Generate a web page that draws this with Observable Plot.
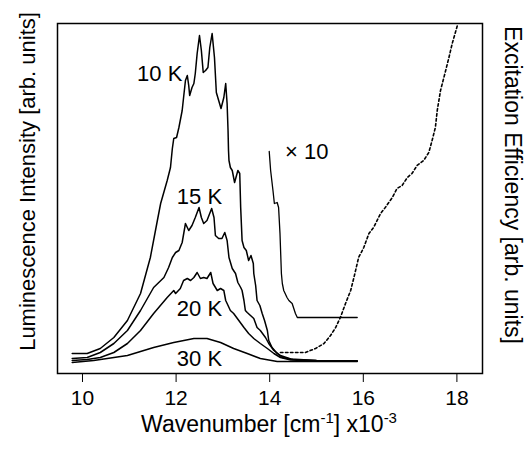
<!DOCTYPE html>
<html>
<head>
<meta charset="utf-8">
<script src="https://cdn.jsdelivr.net/npm/d3@7"></script>
<script src="https://cdn.jsdelivr.net/npm/@observablehq/plot@0.6"></script>
<style>
  html, body { margin: 0; padding: 0; background: #fff; }
  #chart svg { display: block; }
</style>
</head>
<body>
<div id="chart"></div>
<script>
// ---- Data (wavenumber x10^3 cm^-1, arbitrary intensity units) ----
const x10K = [9.78,10.10,10.38,10.67,10.96,11.24,11.45,11.60,11.67,11.81,11.88,11.92,11.95,12.01,12.06,12.13,12.16,12.20,12.24,12.27,12.29,12.34,12.38,12.41,12.45,12.50,12.54,12.58,12.63,12.68,12.72,12.77,12.82,12.86,12.91,12.96,13.02,13.06,13.09,13.11,13.12,13.13,13.16,13.20,13.25,13.32,13.36,13.38,13.41,13.45,13.50,13.55,13.60,13.65,13.66,13.70,13.73,13.79,13.84,13.89,13.95,13.98,14.05,14.16,14.27,14.50,15.00,15.87];
const y10K = [20,20,25,36,53,80,116,153,170,193,206,225,235,236,246,263,276,293,298,288,278,286,290,300,320,338,323,301,303,306,326,340,316,281,273,265,276,290,270,243,223,213,206,203,191,203,200,166,133,126,123,113,118,110,100,88,73,68,60,53,43,33,26,20,16,14,13,12.5];

const x15K = [9.78,10.10,10.38,10.67,10.96,11.24,11.52,11.74,11.84,11.92,11.99,12.06,12.13,12.20,12.27,12.34,12.41,12.49,12.54,12.59,12.66,12.76,12.81,12.84,12.91,12.98,13.04,13.09,13.13,13.20,13.27,13.32,13.38,13.41,13.45,13.48,13.52,13.66,13.73,13.80,13.91,13.98,14.09,14.23,14.45,15.00,15.87];
const y15K = [15,16,21,30,43,63,86,96,106,116,121,123,131,150,143,148,156,166,156,150,153,165,156,138,135,135,141,133,116,105,100,91,86,83,73,63,61,55,46,43,36,30,23,18,14.5,13,12.5];

const x20K = [9.78,10.10,10.38,10.67,10.96,11.24,11.52,11.81,11.95,11.99,12.09,12.16,12.24,12.31,12.38,12.45,12.52,12.59,12.66,12.74,12.79,12.88,12.95,13.02,13.06,13.16,13.23,13.34,13.45,13.55,13.66,13.80,13.95,14.09,14.23,14.45,15.00,15.87];
const y20K = [13,14,16,21,30,43,60,76,83,80,85,93,95,93,96,101,95,96,95,101,90,83,85,83,73,63,60,53,46,40,35,30,25,20,16,13.5,12.5,12.5];

const x30K = [9.78,10.24,10.96,11.52,11.95,12.38,12.66,12.95,13.23,13.52,13.80,14.16,14.60,15.87];
const y30K = [11,13,18,26,31,35,35,31,25,20,15,12,12,12];

const xTimes10 = [13.99,14.02,14.07,14.10,14.16,14.19,14.22,14.25,14.27,14.30,14.37,14.41,14.48,14.55,14.59,15.87];
const yTimes10 = [222,203,183,170,171,166,140,100,90,83,76,73,70,60,56,56];

const xExc = [14.23,14.48,14.76,14.98,15.16,15.30,15.41,15.51,15.62,15.73,15.80,15.90,16.01,16.12,16.22,16.37,16.47,16.62,16.72,16.83,16.94,17.04,17.15,17.29,17.40,17.47,17.54,17.58,17.65,17.76,17.83,17.90,18.01];
const yExc = [21,21,21,25,30,38,46,56,70,83,96,116,126,140,146,160,166,176,185,188,196,200,208,213,221,233,246,263,283,303,316,330,348];

const labelText = ["10 K","15 K","20 K","30 K","× 10"];
const labelX = [11.65,12.50,12.50,12.50,14.79];
const labelY = [293,170,58,8,215];

const xTicks = [10,12,14,16,18];

// ---- Build ----
const toRows = (xs, ys) => xs.map((x, i) => ({x, y: ys[i]}));
const labels = labelText.map((t, i) => ({t, x: labelX[i], y: labelY[i]}));

const W = 527, H = 449;
const plot = Plot.plot({
  width: W,
  height: H,
  marginLeft: 57,
  marginRight: 45,
  marginTop: 23,
  marginBottom: 76,
  style: {fontFamily: "'Liberation Sans', Arial, Helvetica, sans-serif", fontSize: "21px", background: "#fff", color: "#000"},
  x: {domain: [9.466, 18.547]},
  y: {domain: [0, 350]},
  marks: [
    Plot.axisX({ticks: xTicks, tickSize: 9, tickPadding: 8, label: null, fontSize: 21, tickFormat: d => String(d)}),
    Plot.axisY({ticks: [], label: null}),
    Plot.line(toRows(x30K, y30K), {x: "x", y: "y", stroke: "#000", strokeWidth: 1.5}),
    Plot.line(toRows(x20K, y20K), {x: "x", y: "y", stroke: "#000", strokeWidth: 1.5}),
    Plot.line(toRows(x15K, y15K), {x: "x", y: "y", stroke: "#000", strokeWidth: 1.5}),
    Plot.line(toRows(x10K, y10K), {x: "x", y: "y", stroke: "#000", strokeWidth: 1.5}),
    Plot.line(toRows(xTimes10, yTimes10), {x: "x", y: "y", stroke: "#000", strokeWidth: 1.3}),
    Plot.line(toRows(xExc, yExc), {x: "x", y: "y", stroke: "#000", strokeWidth: 1.6, strokeDasharray: "2.5,2.5"}),
    Plot.text(labels, {x: "x", y: "y", text: "t", textAnchor: "middle", lineAnchor: "bottom", fontSize: 22, fill: "#000"}),
    Plot.frame({stroke: "#000", strokeWidth: 1.5})
  ]
});

document.getElementById("chart").appendChild(plot);

// ---- Axis titles (outside the frame) ----
const svg = d3.select(plot);
const ff = "'Liberation Sans', Arial, Helvetica, sans-serif";

const xl = svg.append("text")
  .attr("x", 269).attr("y", 432)
  .attr("text-anchor", "middle")
  .attr("font-family", ff).attr("font-size", 23).attr("fill", "#000");
xl.append("tspan").text("Wavenumber [cm");
xl.append("tspan").attr("font-size", 15).attr("dy", -9).text("-1");
xl.append("tspan").attr("dy", 9).text("] x10");
xl.append("tspan").attr("font-size", 15).attr("dy", -9).text("-3");

svg.append("text")
  .attr("transform", "translate(35,181.5) rotate(-90)")
  .attr("text-anchor", "middle")
  .attr("font-family", ff).attr("font-size", 22).attr("fill", "#000")
  .text("Luminescence Intensity [arb. units]");

svg.append("text")
  .attr("transform", "translate(505,185) rotate(90)")
  .attr("text-anchor", "middle")
  .attr("font-family", ff).attr("font-size", 23).attr("fill", "#000")
  .text("Excitation Efficiency [arb. units]");
</script>
</body>
</html>
